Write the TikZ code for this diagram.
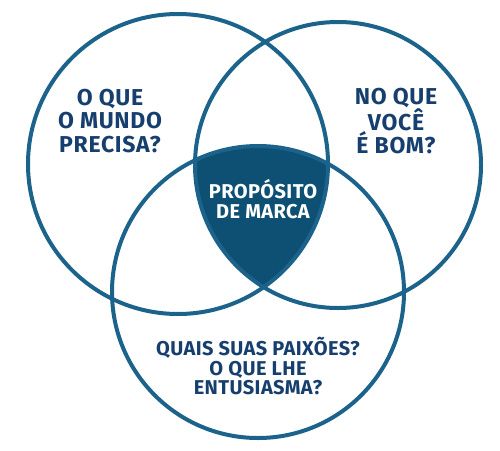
\documentclass[tikz,border=0pt]{standalone}
\usepackage{fontspec}
\setmainfont{Fira Sans}
\usepackage{xcolor}
\definecolor{ring-blue}{HTML}{1B638B}
\definecolor{core-blue}{HTML}{0E5074}
\definecolor{label-blue}{HTML}{173F6E}
\tikzset{
    venn-ring/.style = {draw=ring-blue, line width=4pt},
    venn-label/.style = {text=label-blue, align=center, font=\bfseries\fontsize{23}{23.5}\selectfont\addfontfeatures{LetterSpace=3}},
    small-label/.style = {align=center, font=\bfseries\fontsize{20}{19.5}\selectfont\addfontfeatures{LetterSpace=2}},
}

\begin{document}
\begin{tikzpicture}[x=1pt, y=-1pt]
\useasboundingbox (0,0) rectangle (500,450);
\coordinate (mundo) at (178,164);
\coordinate (bom) at (338,165);
\coordinate (paixao) at (258,292);
% centre shared by all three
\begin{scope}
    \clip (mundo) circle (150);
    \clip (bom) circle (143);
    \fill[core-blue] (paixao) circle (146);
\end{scope}
\draw[venn-ring] (mundo) circle (150);
\draw[venn-ring] (bom) circle (143);
\draw[venn-ring] (paixao) circle (146);
\node[venn-label] (mundo-text) at (110,121) {O QUE\\O MUNDO\\PRECISA?};
\node[venn-label] (bom-text) at (396,121) {NO QUE\\VOCÊ\\É BOM?};
\node[small-label, text=white] (marca-text) at (263,199) {PROPÓSITO\\DE MARCA};
\node[small-label, text=label-blue] (paixao-text) at (258,366) {QUAIS SUAS PAIXÕES?\\O QUE LHE\\ENTUSIASMA?};
\end{tikzpicture}
\end{document}
